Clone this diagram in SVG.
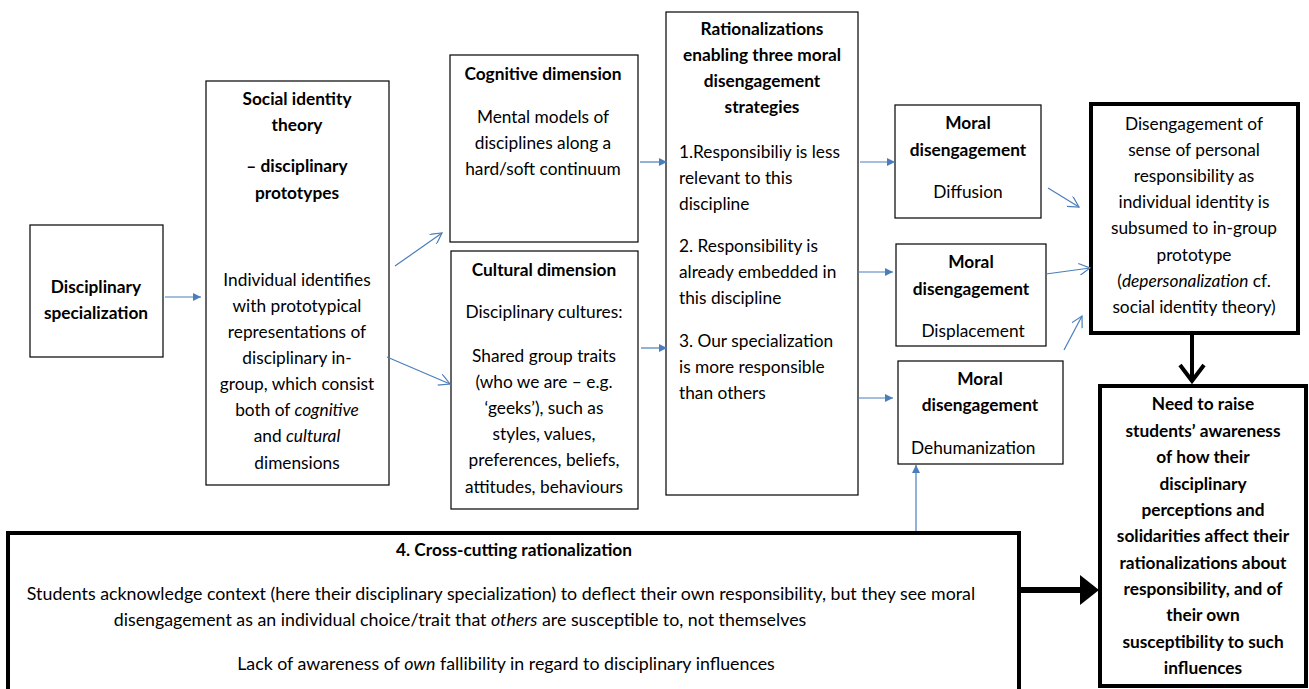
<svg xmlns="http://www.w3.org/2000/svg" width="1309" height="689" viewBox="0 0 1309 689">
<style>
  text { font-family: Lato, "Liberation Sans", sans-serif; font-size: 17.3px; fill: #000; }
  .b { font-weight: bold; }
  .c { text-anchor: middle; }
  .i { font-style: italic; }
  .cc { font-size: 17.8px; }
  .box { fill: #fff; stroke: #000; stroke-width: 1.2; }
  .thick { fill: #fff; stroke: #000; stroke-width: 4; }
  .con { stroke: #4a7ebb; stroke-width: 1.2; fill: none; }
</style>
<defs>
  <marker id="fh" viewBox="0 0 10 10" refX="10" refY="5" markerWidth="9" markerHeight="8" orient="auto" markerUnits="userSpaceOnUse">
    <path d="M0,0 L10,5 L0,10 z" fill="#4a7ebb"/>
  </marker>
  <marker id="oh" viewBox="0 0 12 12" refX="11" refY="6" markerWidth="13" markerHeight="12" orient="auto" markerUnits="userSpaceOnUse">
    <path d="M0,0 L11,6 L0,12" fill="none" stroke="#4a7ebb" stroke-width="1.2"/>
  </marker>
</defs>
<rect width="1309" height="689" fill="#fff"/>

<g id="n-specialization">
  <rect class="box" x="30" y="225" width="133" height="132"/>
  <text class="b c" x="96" y="293">Disciplinary</text>
  <text class="b c" x="96" y="319">specialization</text>
</g>

<g id="n-social-identity">
  <rect class="box" x="206" y="81" width="183" height="404"/>
  <text class="b c" x="297" y="105">Social identity</text>
  <text class="b c" x="297" y="131">theory</text>
  <text class="b c" x="297" y="172">– disciplinary</text>
  <text class="b c" x="297" y="199">prototypes</text>
  <text class="c" x="297" y="286">Individual identifies</text>
  <text class="c" x="297" y="312">with prototypical</text>
  <text class="c" x="297" y="338">representations of</text>
  <text class="c" x="297" y="364">disciplinary in-</text>
  <text class="c" x="297" y="390">group, which consist</text>
  <text class="c" x="297" y="416">both of <tspan class="i">cognitive</tspan></text>
  <text class="c" x="297" y="442">and <tspan class="i">cultural</tspan></text>
  <text class="c" x="297" y="469">dimensions</text>
</g>

<g id="n-cognitive">
  <rect class="box" x="450" y="55" width="188" height="187"/>
  <text class="b c" x="543" y="80">Cognitive dimension</text>
  <text class="c" x="543" y="123">Mental models of</text>
  <text class="c" x="543" y="149">disciplines along a</text>
  <text class="c" x="543" y="175">hard/soft continuum</text>
</g>

<g id="n-cultural">
  <rect class="box" x="451" y="251" width="187" height="258"/>
  <text class="b c" x="544" y="276">Cultural dimension</text>
  <text class="c" x="544" y="318">Disciplinary cultures:</text>
  <text class="c" x="544" y="362">Shared group traits</text>
  <text class="c" x="544" y="388">(who we are – e.g.</text>
  <text class="c" x="544" y="414">‘geeks’), such as</text>
  <text class="c" x="544" y="440">styles, values,</text>
  <text class="c" x="544" y="466">preferences, beliefs,</text>
  <text class="c" x="544" y="493">attitudes, behaviours</text>
</g>

<g id="n-rationalizations">
  <rect class="box" x="666" y="12" width="192" height="483"/>
  <text class="b c" x="762" y="35">Rationalizations</text>
  <text class="b c" x="762" y="61">enabling three moral</text>
  <text class="b c" x="762" y="87">disengagement</text>
  <text class="b c" x="762" y="113">strategies</text>
  <text x="679" y="158">1.Responsibiliy is less</text>
  <text x="679" y="184">relevant to this</text>
  <text x="679" y="210">discipline</text>
  <text x="679" y="252">2. Responsibility is</text>
  <text x="679" y="278">already embedded in</text>
  <text x="679" y="304">this discipline</text>
  <text x="679" y="347">3. Our specialization</text>
  <text x="679" y="373">is more responsible</text>
  <text x="679" y="399">than others</text>
</g>

<g id="n-diffusion">
  <rect class="box" x="895" y="105" width="146" height="113"/>
  <text class="b c" x="968" y="129">Moral</text>
  <text class="b c" x="968" y="156">disengagement</text>
  <text class="c" x="968" y="198">Diffusion</text>
</g>

<g id="n-displacement">
  <rect class="box" x="896" y="244" width="150" height="102"/>
  <text class="b c" x="971" y="268">Moral</text>
  <text class="b c" x="971" y="295">disengagement</text>
  <text class="c" x="973" y="337">Displacement</text>
</g>

<g id="n-dehumanization">
  <rect class="box" x="898" y="361" width="165" height="103"/>
  <text class="b c" x="980" y="385">Moral</text>
  <text class="b c" x="980" y="411">disengagement</text>
  <text x="911" y="454">Dehumanization</text>
</g>

<g id="n-depersonalization">
  <rect class="thick" x="1091" y="104" width="207" height="229"/>
  <text class="c" x="1194" y="130">Disengagement of</text>
  <text class="c" x="1194" y="156">sense of personal</text>
  <text class="c" x="1194" y="182">responsibility as</text>
  <text class="c" x="1194" y="208">individual identity is</text>
  <text class="c" x="1194" y="234">subsumed to in-group</text>
  <text class="c" x="1194" y="261">prototype</text>
  <text class="c" x="1194" y="287">(<tspan class="i">depersonalization</tspan> cf.</text>
  <text class="c" x="1194" y="313">social identity theory)</text>
</g>

<g id="n-need">
  <rect class="thick" x="1100" y="386" width="206" height="300"/>
  <text class="b c" x="1203" y="410">Need to raise</text>
  <text class="b c" x="1203" y="437">students’ awareness</text>
  <text class="b c" x="1203" y="463">of how their</text>
  <text class="b c" x="1203" y="490">disciplinary</text>
  <text class="b c" x="1203" y="516">perceptions and</text>
  <text class="b c" x="1203" y="542">solidarities affect their</text>
  <text class="b c" x="1203" y="569">rationalizations about</text>
  <text class="b c" x="1203" y="595">responsibility, and of</text>
  <text class="b c" x="1203" y="621">their own</text>
  <text class="b c" x="1203" y="648">susceptibility to such</text>
  <text class="b c" x="1203" y="674">influences</text>
</g>

<g id="n-crosscutting">
  <rect class="thick" x="8" y="533" width="1011" height="160"/>
  <text class="b c" x="514" y="556">4. Cross-cutting rationalization</text>
  <text class="c cc" x="501" y="600">Students acknowledge context (here their disciplinary specialization) to deflect their own responsibility, but they see moral</text>
  <text class="c cc" x="460" y="626">disengagement as an individual choice/trait that <tspan class="i">others</tspan> are susceptible to, not themselves</text>
  <text class="c cc" x="506" y="670">Lack of awareness of <tspan class="i">own</tspan> fallibility in regard to disciplinary influences</text>
</g>

<g id="connectors">
  <line class="con" x1="165" y1="297" x2="201" y2="297" marker-end="url(#fh)"/>
  <line class="con" x1="395" y1="266" x2="442" y2="233" marker-end="url(#oh)"/>
  <line class="con" x1="387" y1="357" x2="450" y2="384" marker-end="url(#oh)"/>
  <line class="con" x1="640" y1="162" x2="667" y2="162" marker-end="url(#fh)"/>
  <line class="con" x1="641" y1="348" x2="667" y2="348" marker-end="url(#fh)"/>
  <line class="con" x1="860" y1="162" x2="895" y2="162" marker-end="url(#fh)"/>
  <line class="con" x1="858" y1="272" x2="893" y2="272" marker-end="url(#fh)"/>
  <line class="con" x1="858" y1="398" x2="893" y2="398" marker-end="url(#fh)"/>
  <line class="con" x1="1048" y1="188" x2="1079" y2="207" marker-end="url(#oh)"/>
  <line class="con" x1="1046" y1="274" x2="1090" y2="268" marker-end="url(#oh)"/>
  <line class="con" x1="1064" y1="350" x2="1082" y2="316" marker-end="url(#oh)"/>
  <line class="con" x1="916" y1="531" x2="916" y2="465" marker-end="url(#fh)"/>
  <g id="thick-down">
    <line x1="1192" y1="335" x2="1192" y2="381" stroke="#000" stroke-width="4"/>
    <polyline points="1180,365 1192,381 1204,365" fill="none" stroke="#000" stroke-width="4"/>
  </g>
  <g id="thick-right">
    <line x1="1021" y1="590" x2="1084" y2="590" stroke="#000" stroke-width="6"/>
    <path d="M1080,575 L1099,590 L1080,605 z" fill="#000"/>
  </g>
</g>
</svg>
